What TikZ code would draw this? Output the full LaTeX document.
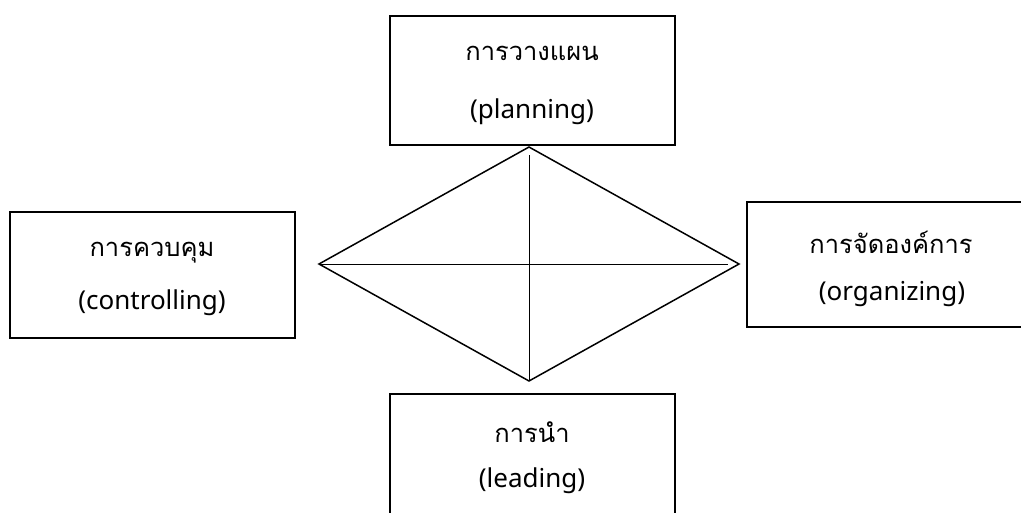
\documentclass[tikz,border=0pt]{standalone}
\usepackage{fontspec}
\setmainfont{Noto Sans}
\newfontfamily\thaifont[Script=Thai]{Loma}
\begin{document}
\begin{tikzpicture}[x=1pt,y=-1pt,
  boxstyle/.style={draw, line width=1.8pt, inner sep=0pt},
  thaitext/.style={font=\thaifont\fontsize{25.5}{28}\selectfont, inner sep=0pt, anchor=center},
  latintext/.style={font=\fontsize{26}{28}\selectfont, inner sep=0pt, anchor=center},
  dline/.style={line width=1.5pt, line join=miter},
  axisline/.style={line width=1pt}]
\useasboundingbox (0,0) rectangle (1021,512);
\clip (0,0) rectangle (1021,512);
% boxes
\draw[boxstyle] (390,16) rectangle (675,145);
\draw[boxstyle] (10,212) rectangle (295,338);
\draw[boxstyle] (747,202) rectangle (1040,327);
\draw[boxstyle] (390,394) rectangle (675,530);
% labels
\node[thaitext] (pt) at (532,53) {การวางแผน};
\node[latintext] (pl) at (532,112) {(planning)};
\node[thaitext] (ct) at (152,253) {การควบคุม};
\node[latintext] (cl) at (152,303) {(controlling)};
\node[thaitext] (ot) at (891,242) {การจัดองค์การ};
\node[latintext] (ol) at (892,294) {(organizing)};
\node[thaitext] (lt) at (532,432) {การนำ};
\node[latintext] (ll) at (532,481) {(leading)};
% diamond
\coordinate (dt) at (529,147);
\coordinate (dl) at (319,264);
\coordinate (dr) at (739,264);
\coordinate (db) at (529,381);
\coordinate (vt) at (529,155);
\coordinate (hr) at (728,264);
\draw[dline] (dt) -- (dr) -- (db) -- (dl) -- cycle;
\draw[axisline] (vt) -- (db);
\draw[axisline] (dl) -- (hr);
\end{tikzpicture}
\end{document}
